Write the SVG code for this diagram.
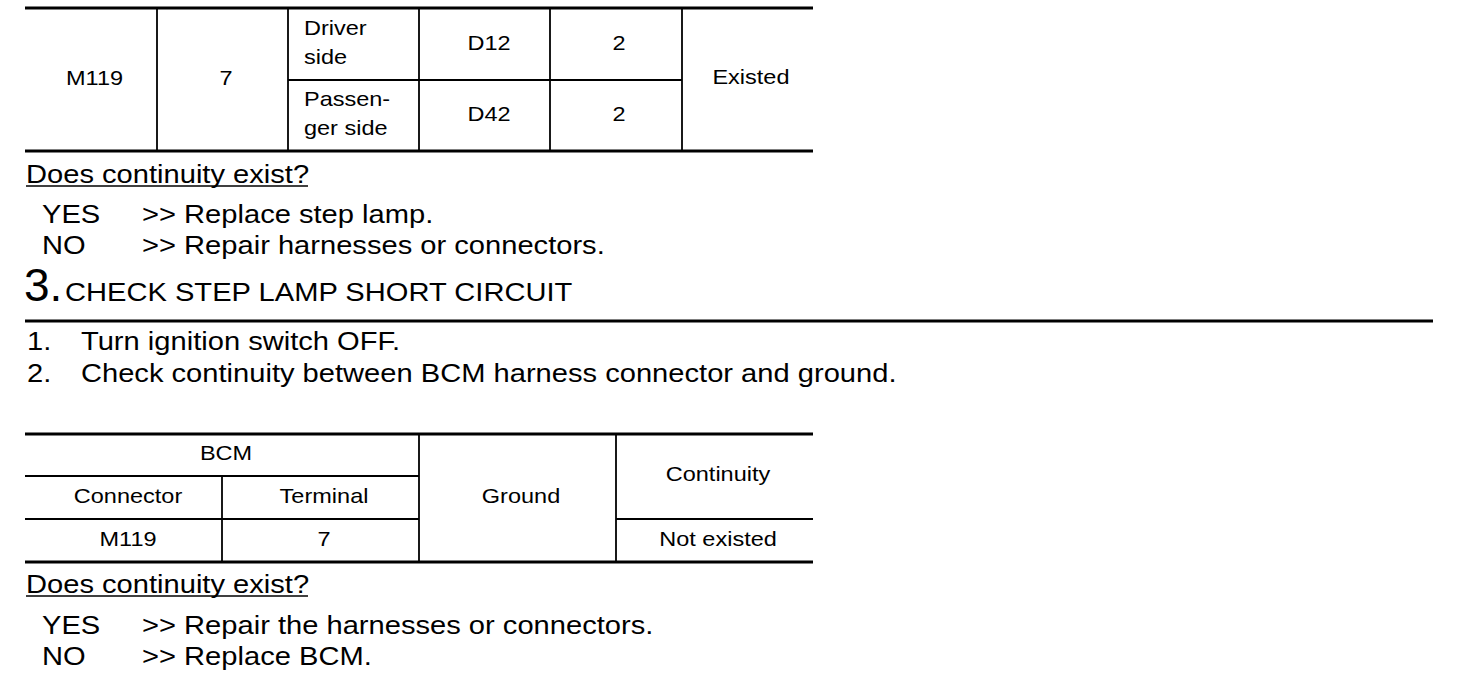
<svg xmlns="http://www.w3.org/2000/svg" width="1472" height="680" viewBox="0 0 1472 680">
<style>
text{font-family:"Liberation Sans",Arial,sans-serif;fill:#000}
.t{font-size:21px}
.c{text-anchor:middle}
.b{font-size:26px}
.big{font-size:46px}
.thick{stroke:#000;stroke-width:3.2;fill:none}
.thin{stroke:#000;stroke-width:1.8;fill:none}
.ul{stroke:#000;stroke-width:1.5}
</style>
<rect width="1472" height="680" fill="#fff"/>
<g id="table1">
<line class="thick" x1="25" y1="8" x2="813" y2="8"/>
<line class="thick" x1="25" y1="151" x2="813" y2="151"/>
<line class="thin" x1="157" y1="8" x2="157" y2="151"/>
<line class="thin" x1="288" y1="8" x2="288" y2="151"/>
<line class="thin" x1="419" y1="8" x2="419" y2="151"/>
<line class="thin" x1="550" y1="8" x2="550" y2="151"/>
<line class="thin" x1="682" y1="8" x2="682" y2="151"/>
<line class="thin" x1="288" y1="80" x2="682" y2="80"/>
<g transform="scale(1.12 1)">
<text class="t c" x="84.4" y="85">M119</text>
<text class="t c" x="201.8" y="85">7</text>
<text class="t" x="271.4" y="35">Driver</text>
<text class="t" x="271.4" y="64">side</text>
<text class="t" x="271.4" y="106">Passen-</text>
<text class="t" x="271.4" y="135">ger side</text>
<text class="t c" x="436.6" y="50">D12</text>
<text class="t c" x="552.7" y="50">2</text>
<text class="t c" x="436.6" y="121">D42</text>
<text class="t c" x="552.7" y="121">2</text>
<text class="t c" x="670.5" y="84">Existed</text>
</g>
</g>
<g id="answer1">
<g transform="scale(1.12 1)">
<text class="b" x="23.2" y="183">Does continuity exist?</text>
<text class="b" x="37.5" y="223">YES</text>
<text class="b" x="126.8" y="223">&gt;&gt; Replace step lamp.</text>
<text class="b" x="37.5" y="254">NO</text>
<text class="b" x="126.8" y="254">&gt;&gt; Repair harnesses or connectors.</text>
</g>
<line class="ul" x1="26" y1="186" x2="308" y2="186"/>
</g>
<g id="step3">
<text class="big" x="24" y="301">3.</text>
<g transform="scale(1.12 1)">
<text class="b" x="58" y="301">CHECK STEP LAMP SHORT CIRCUIT</text>
<text class="b" x="24.1" y="350">1.</text>
<text class="b" x="72.3" y="350">Turn ignition switch OFF.</text>
<text class="b" x="24.1" y="382">2.</text>
<text class="b" x="72.3" y="382">Check continuity between BCM harness connector and ground.</text>
</g>
<line class="thick" x1="25" y1="321" x2="1433" y2="321"/>
</g>
<g id="table2">
<line class="thick" x1="25" y1="434" x2="813" y2="434"/>
<line class="thick" x1="25" y1="562" x2="813" y2="562"/>
<line class="thin" x1="25" y1="476" x2="419" y2="476"/>
<line class="thin" x1="25" y1="519" x2="419" y2="519"/>
<line class="thin" x1="616" y1="519" x2="813" y2="519"/>
<line class="thin" x1="222" y1="476" x2="222" y2="562"/>
<line class="thin" x1="419" y1="434" x2="419" y2="562"/>
<line class="thin" x1="616" y1="434" x2="616" y2="562"/>
<g transform="scale(1.12 1)">
<text class="t c" x="201.8" y="460">BCM</text>
<text class="t c" x="114.3" y="503">Connector</text>
<text class="t c" x="289.3" y="503">Terminal</text>
<text class="t c" x="465.2" y="503">Ground</text>
<text class="t c" x="641.1" y="481">Continuity</text>
<text class="t c" x="114.3" y="546">M119</text>
<text class="t c" x="289.3" y="546">7</text>
<text class="t c" x="641.1" y="546">Not existed</text>
</g>
</g>
<g id="answer2">
<g transform="scale(1.12 1)">
<text class="b" x="23.2" y="593">Does continuity exist?</text>
<text class="b" x="37.5" y="634">YES</text>
<text class="b" x="126.8" y="634">&gt;&gt; Repair the harnesses or connectors.</text>
<text class="b" x="37.5" y="665">NO</text>
<text class="b" x="126.8" y="665">&gt;&gt; Replace BCM.</text>
</g>
<line class="ul" x1="26" y1="596" x2="308" y2="596"/>
</g>
</svg>
